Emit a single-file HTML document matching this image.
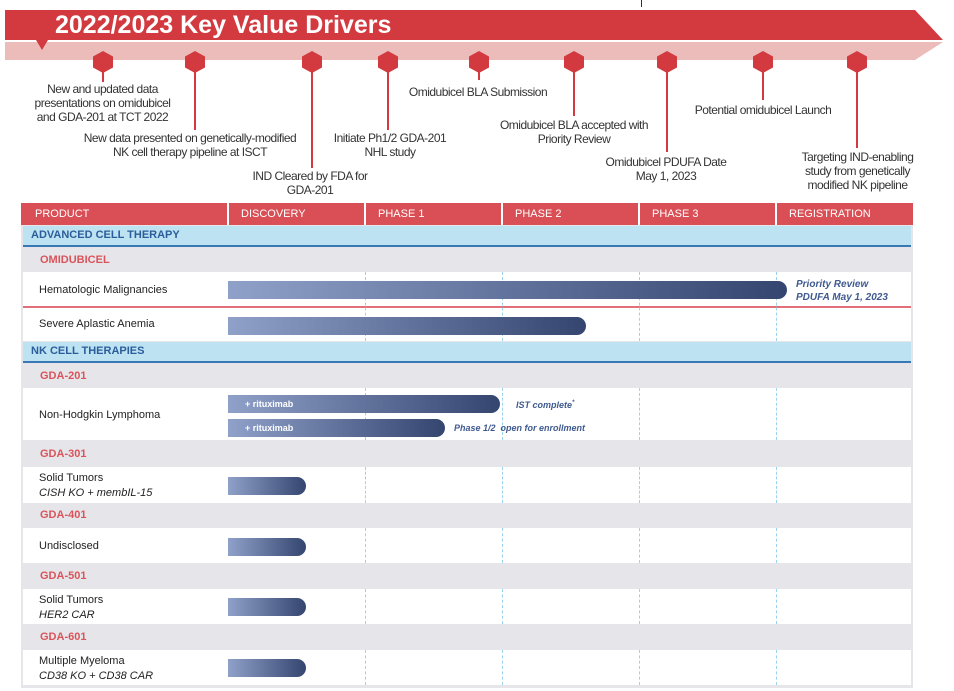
<!DOCTYPE html>
<html><head><meta charset="utf-8"><style>
body{margin:0;width:954px;height:691px;background:#fff;position:relative;overflow:hidden;font-family:"Liberation Sans",sans-serif}
.a{position:absolute}
.t{position:absolute;font-size:12px;color:#333;text-align:center;line-height:14px;letter-spacing:-0.5px}
.ln{position:absolute;width:2px;background:#d23a3f}
.hx{position:absolute;width:20px;height:22px;background:#d23a3f;clip-path:polygon(50% 0,100% 25%,100% 75%,50% 100%,0 75%,0 25%)}
.hd{position:absolute;top:203px;height:22px;background:#d94f55;color:#fff;font-size:11px;line-height:22px}
.band{position:absolute;left:23px;width:888px;height:19px;background:#bde3f3;border-bottom:2px solid #3a78b5;color:#2b5d9b;font-size:11px;font-weight:bold;line-height:19px;padding-left:8px;box-sizing:content-box}
.gl{position:absolute;left:40px;color:#d9545a;font-size:11px;font-weight:bold}
.row{position:absolute;left:23px;width:888px;background:#fff}
.lab{position:absolute;left:39px;font-size:11px;color:#222;line-height:22px}
.bar{position:absolute;left:228px;height:18px;border-radius:0 9px 9px 0;background:linear-gradient(90deg,#8fa1c9,#34466f)}
.dv{position:absolute;width:0;border-left:1px dashed #9ad3ec}
.note{position:absolute;font-size:10px;font-style:italic;font-weight:bold;color:#3f5a8f}
</style></head><body>
<div class="a" style="left:641px;top:0;width:1px;height:7px;background:#333"></div>
<svg class="a" style="left:0;top:0" width="954" height="80">
<polygon points="5,42 915,42 943,42 915,60 5,60" fill="#ebbcba"/>
<polygon points="5,10 915,10 943,40 5,40" fill="#d23a3f"/>
<polygon points="36,40 48,40 42,50" fill="#d23a3f"/>
</svg>
<div class="a" style="left:55px;top:10px;color:#fff;font-weight:bold;font-size:25px;line-height:30px">2022/2023 Key Value Drivers</div>
<div class="hx" style="left:93px;top:51px"></div><div class="ln" style="left:102px;top:70px;height:12px"></div>
<div class="hx" style="left:185px;top:51px"></div><div class="ln" style="left:194px;top:70px;height:60px"></div>
<div class="hx" style="left:302px;top:51px"></div><div class="ln" style="left:311px;top:70px;height:98px"></div>
<div class="hx" style="left:378px;top:51px"></div><div class="ln" style="left:387px;top:70px;height:60px"></div>
<div class="hx" style="left:469px;top:51px"></div><div class="ln" style="left:478px;top:70px;height:10px"></div>
<div class="hx" style="left:564px;top:51px"></div><div class="ln" style="left:573px;top:70px;height:46px"></div>
<div class="hx" style="left:657px;top:51px"></div><div class="ln" style="left:666px;top:70px;height:82px"></div>
<div class="hx" style="left:753px;top:51px"></div><div class="ln" style="left:762px;top:70px;height:30px"></div>
<div class="hx" style="left:847px;top:51px"></div><div class="ln" style="left:856px;top:70px;height:78px"></div>
<div class="t" style="left:25px;top:82px;width:155px">New and updated data presentations on omidubicel and GDA-201 at TCT 2022</div>
<div class="t" style="left:70px;top:131px;width:240px">New data presented on genetically-modified<br>NK cell therapy pipeline at ISCT</div>
<div class="t" style="left:240px;top:169px;width:140px">IND Cleared by FDA for<br>GDA-201</div>
<div class="t" style="left:320px;top:131px;width:140px">Initiate Ph1/2 GDA-201<br>NHL study</div>
<div class="t" style="left:398px;top:85px;width:160px">Omidubicel BLA Submission</div>
<div class="t" style="left:485px;top:118px;width:178px">Omidubicel BLA accepted with<br>Priority Review</div>
<div class="t" style="left:590px;top:155px;width:152px">Omidubicel PDUFA Date<br>May 1, 2023</div>
<div class="t" style="left:682px;top:103px;width:162px">Potential omidubicel Launch</div>
<div class="t" style="left:790px;top:150px;width:135px">Targeting IND-enabling study from genetically modified NK pipeline</div>

<div class="a" style="left:21px;top:225px;width:892px;height:463px;background:#e6e6ea"></div>
<div class="hd" style="left:21px;width:206px;padding-left:14px;box-sizing:border-box">PRODUCT</div>
<div class="hd" style="left:229px;width:135px;padding-left:12px;box-sizing:border-box">DISCOVERY</div>
<div class="hd" style="left:366px;width:135px;padding-left:12px;box-sizing:border-box">PHASE 1</div>
<div class="hd" style="left:503px;width:135px;padding-left:12px;box-sizing:border-box">PHASE 2</div>
<div class="hd" style="left:640px;width:135px;padding-left:12px;box-sizing:border-box">PHASE 3</div>
<div class="hd" style="left:777px;width:136px;padding-left:12px;box-sizing:border-box">REGISTRATION</div>

<div class="band" style="top:226px;width:880px">ADVANCED CELL THERAPY</div>
<div class="gl" style="top:254px">OMIDUBICEL</div>
<div class="row" style="top:272px;height:34px"></div>
<div class="a" style="left:23px;top:306px;width:888px;height:2px;background:#e0707a"></div>
<div class="row" style="top:308px;height:33px"></div>
<div class="band" style="top:342px;width:880px">NK CELL THERAPIES</div>
<div class="gl" style="top:370px">GDA-201</div>
<div class="row" style="top:388px;height:52px"></div>
<div class="gl" style="top:448px">GDA-301</div>
<div class="row" style="top:467px;height:36px"></div>
<div class="gl" style="top:509px">GDA-401</div>
<div class="row" style="top:528px;height:35px"></div>
<div class="gl" style="top:570px">GDA-501</div>
<div class="row" style="top:589px;height:35px"></div>
<div class="gl" style="top:631px">GDA-601</div>
<div class="row" style="top:650px;height:35px"></div>

<div class="dv" style="left:365px;top:272px;height:69px"></div>
<div class="dv" style="left:502px;top:272px;height:69px"></div>
<div class="dv" style="left:639px;top:272px;height:69px"></div>
<div class="dv" style="left:776px;top:272px;height:69px"></div>
<div class="dv" style="left:365px;top:388px;height:52px"></div>
<div class="dv" style="left:502px;top:388px;height:52px"></div>
<div class="dv" style="left:639px;top:388px;height:52px"></div>
<div class="dv" style="left:776px;top:388px;height:52px"></div>
<div class="dv" style="left:365px;top:467px;height:36px"></div><div class="dv" style="left:502px;top:467px;height:36px"></div><div class="dv" style="left:639px;top:467px;height:36px"></div><div class="dv" style="left:776px;top:467px;height:36px"></div>
<div class="dv" style="left:365px;top:528px;height:35px"></div><div class="dv" style="left:502px;top:528px;height:35px"></div><div class="dv" style="left:639px;top:528px;height:35px"></div><div class="dv" style="left:776px;top:528px;height:35px"></div>
<div class="dv" style="left:365px;top:589px;height:35px"></div><div class="dv" style="left:502px;top:589px;height:35px"></div><div class="dv" style="left:639px;top:589px;height:35px"></div><div class="dv" style="left:776px;top:589px;height:35px"></div>
<div class="dv" style="left:365px;top:650px;height:35px"></div><div class="dv" style="left:502px;top:650px;height:35px"></div><div class="dv" style="left:639px;top:650px;height:35px"></div><div class="dv" style="left:776px;top:650px;height:35px"></div>

<div class="lab" style="top:279px">Hematologic Malignancies</div>
<div class="lab" style="top:313px">Severe Aplastic Anemia</div>
<div class="lab" style="top:404px">Non-Hodgkin Lymphoma</div>
<div class="lab" style="top:471px;line-height:15px">Solid Tumors<br><i>CISH KO + membIL-15</i></div>
<div class="lab" style="top:535px">Undisclosed</div>
<div class="lab" style="top:593px;line-height:15px">Solid Tumors<br><i>HER2 CAR</i></div>
<div class="lab" style="top:654px;line-height:15px">Multiple Myeloma<br><i>CD38 KO + CD38 CAR</i></div>

<div class="bar" style="top:281px;width:559px"></div>
<div class="bar" style="top:317px;width:358px"></div>
<div class="bar" style="top:395px;width:272px;color:#fff;font-size:9px;font-weight:bold;line-height:18px;padding-left:17px;box-sizing:border-box">+ rituximab</div>
<div class="bar" style="top:419px;width:217px;color:#fff;font-size:9px;font-weight:bold;line-height:18px;padding-left:17px;box-sizing:border-box">+ rituximab</div>
<div class="bar" style="top:477px;width:78px"></div>
<div class="bar" style="top:538px;width:78px"></div>
<div class="bar" style="top:598px;width:78px"></div>
<div class="bar" style="top:659px;width:78px"></div>

<div class="note" style="left:796px;top:278px;line-height:13px">Priority Review<br>PDUFA May 1, 2023</div>
<div class="note" style="left:516px;top:400px;font-size:9px">IST complete<sup style="font-size:6px">*</sup></div>
<div class="note" style="left:454px;top:423px;font-size:9px">Phase 1/2 &nbsp;open for enrollment</div>
</body></html>
